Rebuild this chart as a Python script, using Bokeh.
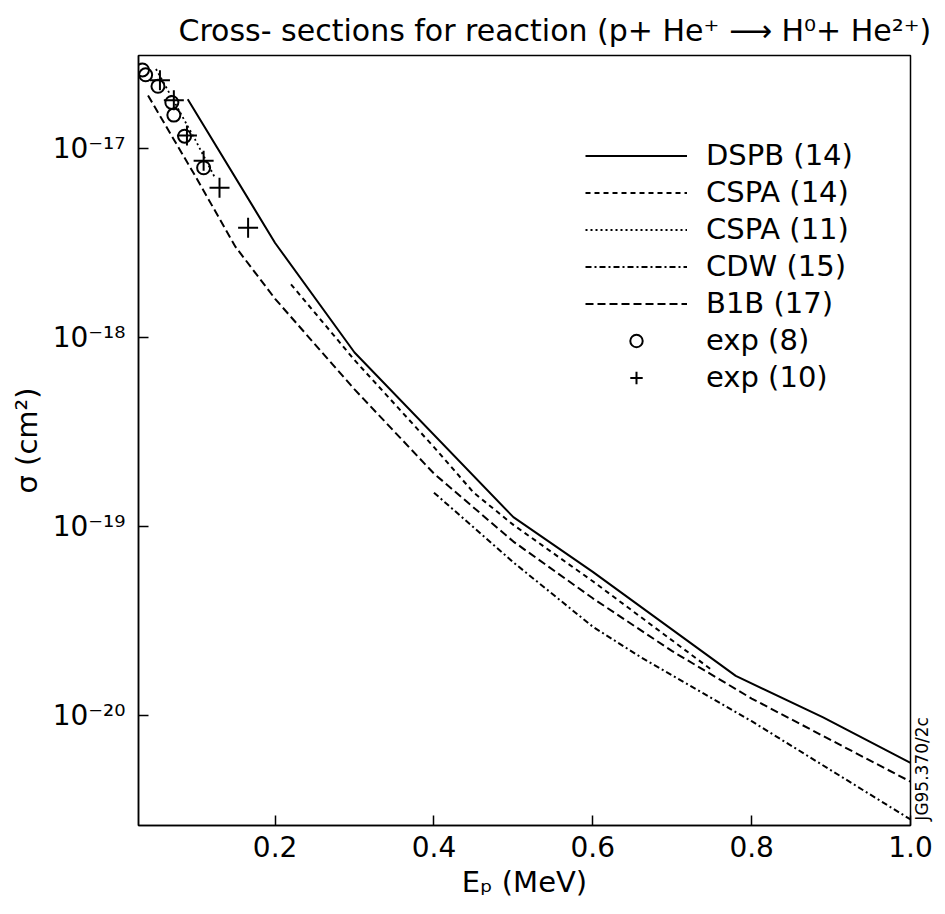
import numpy as np
from bokeh.plotting import figure
from bokeh.models import FixedTicker, Legend, LegendItem, Range1d, LinearAxis
from bokeh.embed import file_html
from bokeh.resources import INLINE

FONT = "DejaVu Sans"

# ---- data (energy in MeV, cross-section in cm^2) ----
dspb_e = [0.09, 0.20, 0.30, 0.50, 0.60, 0.78, 0.89, 1.00]
dspb_s = [1.82e-17, 3.16e-18, 8.32e-19, 1.12e-19, 5.75e-20, 1.62e-20, 9.77e-21, 5.62e-21]

cspa14_e = [0.22, 0.30, 0.40, 0.45, 0.50, 0.60, 0.75]
cspa14_s = [1.91e-18, 7.59e-19, 2.63e-19, 1.51e-19, 1.02e-19, 5.13e-20, 1.74e-20]

cspa11_e = [0.05, 0.07, 0.10, 0.125]
cspa11_s = [2.63e-17, 1.86e-17, 1.10e-17, 6.9e-18]

cdw_e = [0.40, 0.50, 0.60, 0.66, 0.73, 0.80, 0.90, 1.00]
cdw_s = [1.51e-19, 6.46e-20, 2.95e-20, 2.04e-20, 1.38e-20, 9.33e-21, 5.13e-21, 2.82e-21]

b1b_e = [0.04, 0.10, 0.15, 0.20, 0.30, 0.40, 0.50, 0.60, 0.70, 0.80, 0.90, 1.00]
b1b_s = [1.905e-17, 7.08e-18, 3.02e-18, 1.60e-18, 5.31e-19, 1.905e-19, 8.32e-20,
         4.17e-20, 2.19e-20, 1.23e-20, 7.41e-21, 4.47e-21]

exp8_e = [0.033, 0.037, 0.0525, 0.07, 0.0725, 0.086, 0.11]
exp8_s = [2.60e-17, 2.45e-17, 2.13e-17, 1.75e-17, 1.50e-17, 1.16e-17, 7.9e-18]

exp10_e = [0.055, 0.0725, 0.089, 0.11, 0.13, 0.166]
exp10_s = [2.29e-17, 1.80e-17, 1.17e-17, 8.6e-18, 6.2e-18, 3.8e-18]

series_names = ["DSPB (14)", "CSPA (14)", "CSPA (11)", "CDW (15)", "B1B (17)", "exp (8)", "exp (10)"]

x_ticks = [0.2, 0.4, 0.6, 0.8, 1.0]
x_tick_labels = ["0.2", "0.4", "0.6", "0.8", "1.0"]
y_ticks = [1e-20, 1e-19, 1e-18, 1e-17]
y_tick_labels = ["10\u207b\u00b2\u2070", "10\u207b\u00b9\u2079", "10\u207b\u00b9\u2078", "10\u207b\u00b9\u2077"]

title_text = "Cross- sections for reaction (p+ He\u207a \u27f6 H\u2070+ He\u00b2\u207a)"
code_text = "JG95.370/2c"
code_anchor = [2.78e-21]          # sigma level where the figure code starts (bottom right)

# ---- figure ----
p = figure(width=945, height=914,
           x_range=Range1d(0.028, 1.0), y_range=Range1d(2.62e-21, 3.1e-17),
           y_axis_type="log", output_backend="svg", toolbar_location=None,
           min_border_left=138, min_border_right=32, min_border_top=55, min_border_bottom=89)

p.background_fill_color = "white"
p.border_fill_color = "white"
p.outline_line_color = "black"
p.outline_line_width = 1.5
p.outline_line_alpha = 1.0
p.grid.visible = False

p.title.text = title_text
p.title.text_font = FONT
p.title.text_font_size = "30px"
p.title.text_font_style = "normal"
p.title.text_color = "black"
p.title.align = "left"
p.title.offset = 40
p.title.standoff = 16

for ax in (p.xaxis, p.yaxis):
    ax.axis_line_color = "black"
    ax.axis_line_width = 1.5
    ax.major_tick_in = 10
    ax.major_tick_out = 0
    ax.major_tick_line_width = 1.5
    ax.minor_tick_in = 0
    ax.minor_tick_out = 0
    ax.minor_tick_line_color = None
    ax.major_label_text_font = FONT
    ax.major_label_text_font_size = "28px"
    ax.major_label_text_color = "black"
    ax.axis_label_text_font = FONT
    ax.axis_label_text_font_size = "29px"
    ax.axis_label_text_font_style = "normal"
    ax.axis_label_text_color = "black"

p.xaxis.ticker = FixedTicker(ticks=x_ticks, minor_ticks=[])
p.xaxis.major_label_overrides = dict(zip(x_ticks, x_tick_labels))
p.xaxis.axis_label = "E\u209a (MeV)"
p.xaxis.major_label_standoff = 10
p.xaxis.axis_label_standoff = 5

p.yaxis.ticker = FixedTicker(ticks=y_ticks, minor_ticks=[])
p.yaxis.major_label_overrides = dict(zip(y_ticks, y_tick_labels))
p.yaxis.axis_label = "\u03c3 (cm\u00b2)"
p.yaxis.major_label_standoff = 13
p.yaxis.axis_label_standoff = 6

# ---- curves ----
r_dspb = p.line(dspb_e, dspb_s, line_color="black", line_width=2)
r_cspa14 = p.line(cspa14_e, cspa14_s, line_color="black", line_width=2, line_dash="5 4")
r_cspa11 = p.line(cspa11_e, cspa11_s, line_color="black", line_width=1.8, line_dash="2 3")
r_cdw = p.line(cdw_e, cdw_s, line_color="black", line_width=2, line_dash="6 3 2 3")
r_b1b = p.line(b1b_e, b1b_s, line_color="black", line_width=2, line_dash="8 4")
r_exp8 = p.scatter(exp8_e, exp8_s, marker="circle", size=13, fill_color=None,
                   line_color="black", line_width=2)
r_exp10 = p.scatter(exp10_e, exp10_s, marker="cross", size=20,
                    line_color="black", line_width=2)

renderers = [r_dspb, r_cspa14, r_cspa11, r_cdw, r_b1b, r_exp8, r_exp10]
legend = Legend(items=[LegendItem(label=n, renderers=[r]) for n, r in zip(series_names, renderers)],
                location=(447, 431), orientation="vertical",
                glyph_width=102, glyph_height=31, label_height=31, label_standoff=19,
                spacing=3, padding=0, margin=0,
                label_text_font=FONT, label_text_font_size="29px", label_text_color="black",
                background_fill_alpha=0, border_line_alpha=0)
p.add_layout(legend)

# ---- figure code up the right edge: a bare right axis whose only tick label is the code ----
code_axis = LinearAxis(ticker=FixedTicker(ticks=code_anchor, minor_ticks=[]),
                       major_label_overrides={code_anchor[0]: code_text},
                       major_label_orientation=np.pi / 2, major_label_standoff=12,
                       major_label_text_font=FONT, major_label_text_font_size="17px",
                       major_label_text_color="black",
                       axis_line_color=None, major_tick_line_color=None,
                       major_tick_in=0, major_tick_out=0,
                       minor_tick_line_color=None, minor_tick_in=0, minor_tick_out=0)
p.add_layout(code_axis, "right")

open("out.html", "w").write(file_html(p, INLINE))
